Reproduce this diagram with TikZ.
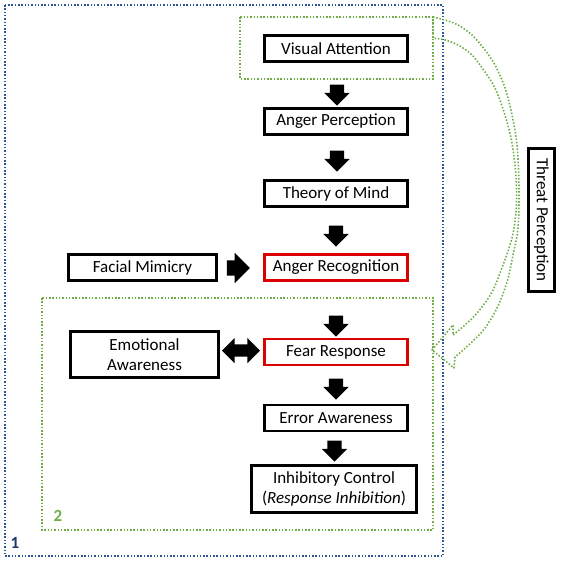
\documentclass[tikz,border=0pt]{standalone}
\usepackage{fontspec}
\setmainfont{Carlito}
\usetikzlibrary{shapes.arrows,calc}
\definecolor{navy}{RGB}{47,85,151}
\definecolor{navytext}{RGB}{31,56,100}
\definecolor{grn}{RGB}{112,173,71}
\definecolor{redb}{RGB}{220,0,0}
\begin{document}
\begin{tikzpicture}[x=1pt,y=-1pt,
  box/.style={draw=black, line width=2.6pt, fill=white, inner sep=0pt, align=center, font=\fontsize{17}{20.5}\selectfont},
  redbox/.style={box, draw=redb},
  blueframe/.style={draw=navy, line width=1.6pt, dash pattern=on 1.5pt off 1.8pt},
  greenframe/.style={draw=grn, line width=1.6pt, dash pattern=on 1.5pt off 1.8pt},
  downarrow/.style={shape=single arrow, fill=black, draw=none, rotate=-90, minimum height=21pt, single arrow head extend=5.5pt, inner xsep=0pt, inner ysep=7pt},
  rightarrow/.style={shape=single arrow, fill=black, draw=none, minimum height=23pt, single arrow head extend=7.5pt, inner xsep=0pt, inner ysep=7.5pt},
  dblarrow/.style={shape=double arrow, fill=black, draw=none, minimum height=38pt, double arrow head extend=6.5pt, inner xsep=0pt, inner ysep=6pt},
  numlabel/.style={font=\bfseries\fontsize{17}{17}\selectfont, inner sep=0pt}
]
\useasboundingbox (0,0) rectangle (561,562);

% frames
\draw[blueframe] (5,5) rectangle (443,556);
\draw[greenframe] (240,17) rectangle (433,79);
\draw[greenframe] (42,298) rectangle (433,530);

% boxes
\node[box, minimum width=143pt, minimum height=26pt] (va) at (336,48.5) {Visual Attention};
\node[box, minimum width=143pt, minimum height=26pt] (ap) at (336,121.5) {Anger Perception};
\node[box, minimum width=143pt, minimum height=26pt] (tom) at (336,193.5) {Theory of Mind};
\node[redbox, minimum width=143pt, minimum height=26pt] (ar) at (336,267.5) {Anger Recognition};
\node[box, minimum width=148pt, minimum height=26pt] (fm) at (142.5,267.5) {Facial Mimicry};
\node[redbox, minimum width=143pt, minimum height=26pt] (fr) at (336,352) {Fear Response};
\node[box, minimum width=148pt, minimum height=46pt] (ea) at (144.5,354.5) {Emotional\\Awareness};
\node[box, minimum width=143pt, minimum height=26pt] (err) at (336,418) {Error Awareness};
\node[box, minimum width=165pt, minimum height=47pt] (ic) at (334,489) {Inhibitory Control\\(\textit{Response Inhibition})};
\node[box, rotate=-90, minimum width=143pt, minimum height=26pt] (tp) at (541.5,220) {Threat Perception};

% block arrows
\node[downarrow] (a1) at (337,91.5) {};
\node[downarrow] (a2) at (337,157.5) {};
\node[downarrow] (a3) at (336,232.5) {};
\node[downarrow] (a4) at (336,322.5) {};
\node[downarrow] (a5) at (336,385.5) {};
\node[downarrow] (a6) at (334.5,447.5) {};
\node[rightarrow] (a7) at (234.5,268) {};
\node[dblarrow] (a8) at (241,350.5) {};

% curved hollow arrow (threat perception)
\draw[greenframe, line join=round]
  plot[smooth, tension=0.55] coordinates {(433,17) (445,20) (458,25) (472,35) (485,50) (495,65) (505,88) (512,115) (517,145) (519,188) (518,228) (513,255) (507,282) (497,308) (485,328) (472,342) (455,357)}
  -- (454,368) -- (432,350) -- (453,325) --
  plot[smooth, tension=0.55] coordinates {(453,335) (465,325) (478,312) (492,292) (503,265) (512,238) (516,212) (516.5,188) (515,165) (511,138) (504,112) (495,88) (485,72) (472,55) (458,45) (445,40) (433,38)}
  -- cycle;

% labels
\node[numlabel, text=navytext] (l1) at (15,543) {1};
\node[numlabel, text=grn] (l2) at (58,516) {2};
\end{tikzpicture}
\end{document}
